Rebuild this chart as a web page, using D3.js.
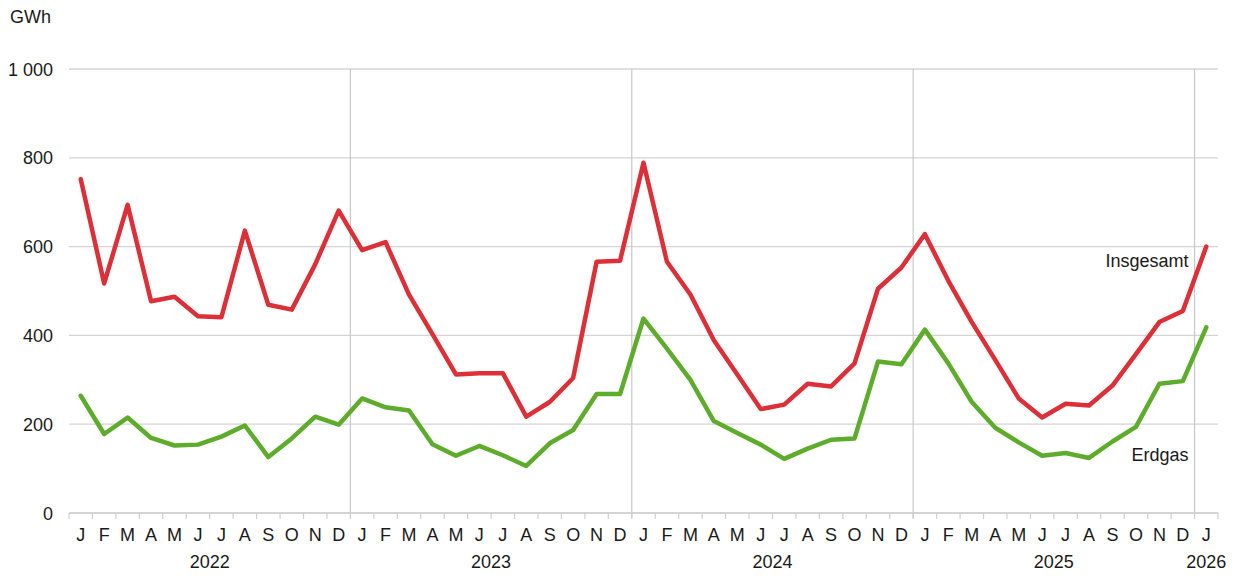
<!DOCTYPE html>
<html>
<head>
<meta charset="utf-8">
<script src="https://cdn.jsdelivr.net/npm/d3@7"></script>
<style>
  body { margin: 0; background: #fff; }
  svg text { font-family: "Liberation Sans", Arial, sans-serif; fill: #1a1a1a; }
</style>
</head>
<body>
<svg id="chart" width="1236" height="576"></svg>
<script>
const years = [2022, 2023, 2024, 2025, 2026];
const monthLetters = ["J", "F", "M", "A", "M", "J", "J", "A", "S", "O", "N", "D"];

// Jan 2022 .. Jan 2026, GWh
const insgesamt = [
  752, 517, 694, 477, 487, 443, 441, 636, 469, 458, 560, 681,
  592, 610, 492, 403, 312, 315, 315, 217, 250, 304, 566, 568,
  789, 566, 492, 389, 312, 234, 244, 291, 285, 337, 505, 553,
  628, 523, 430, 345, 258, 215, 246, 242, 287, 358, 430, 455,
  600
];
const erdgas = [
  264, 178, 215, 169, 152, 154, 172, 197, 126, 168, 217, 199,
  258, 238, 231, 155, 129, 151, 130, 106, 157, 187, 268, 268,
  438, 370, 300, 207, 180, 154, 122, 145, 165, 168, 341, 335,
  413, 337, 250, 192, 159, 129, 135, 124, 161, 194, 291, 297,
  418
];
const yTicks = [0, 200, 400, 600, 800, 1000];

const months = insgesamt.map((d, i) => ({
  key: i,
  year: years[0] + Math.floor(i / 12),
  letter: monthLetters[i % 12]
}));

const margin = { top: 69, right: 18, bottom: 63, left: 69 };
const width = 1236 - margin.left - margin.right;
const height = 576 - margin.top - margin.bottom;
const fontSize = "18px";

const svg = d3.select("#chart");
const g = svg.append("g").attr("transform", "translate(" + margin.left + "," + margin.top + ")");

const x = d3.scaleBand().domain(months.map(d => d.key)).range([0, width]).padding(0);
const y = d3.scaleLinear().domain([0, 1000]).range([height, 0]);

const locale = d3.formatLocale({ decimal: ",", thousands: " ", grouping: [3], currency: ["", ""] });
const fmt = locale.format(",");

// horizontal gridlines
g.selectAll(".grid")
  .data(yTicks)
  .enter()
  .append("line")
  .attr("x1", 0)
  .attr("x2", width)
  .attr("y1", d => y(d))
  .attr("y2", d => y(d))
  .style("stroke", "#d4d4d4")
  .style("stroke-width", 1.3);

// y labels
g.selectAll(".ylab")
  .data(yTicks)
  .enter()
  .append("text")
  .attr("x", -16)
  .attr("y", d => y(d) + 6.5)
  .attr("text-anchor", "end")
  .style("font-size", fontSize)
  .text(d => fmt(d));

svg.append("text")
  .attr("x", 10)
  .attr("y", 23)
  .style("font-size", fontSize)
  .text("GWh");

// year separators (between Dec and Jan)
const sepKeys = months.filter(d => d.key > 0 && d.key % 12 === 0).map(d => d.key);
g.selectAll(".sep")
  .data(sepKeys)
  .enter()
  .append("line")
  .attr("x1", d => x(d))
  .attr("x2", d => x(d))
  .attr("y1", 0)
  .attr("y2", height + 5)
  .style("stroke", "#c8c8c8")
  .style("stroke-width", 1.2);

// bottom axis
const xAxis = d3.axisBottom(x).tickSize(0).tickFormat(k => months[k].letter);
const ax = g.append("g")
  .attr("transform", "translate(0," + height + ")")
  .call(xAxis);
ax.select(".domain").remove();
ax.selectAll("text")
  .attr("y", 28)
  .attr("dy", null)
  .style("font-size", fontSize)
  .style("font-family", "Liberation Sans, Arial, sans-serif")
  .style("fill", "#1a1a1a");

g.append("line")
  .attr("x1", 0).attr("x2", width)
  .attr("y1", height).attr("y2", height)
  .style("stroke", "#d0d0d0")
  .style("stroke-width", 1.5);

// month boundary ticks
const bounds = months.map(d => x(d.key)).concat([width]);
g.selectAll(".mtick")
  .data(bounds)
  .enter()
  .append("line")
  .attr("x1", d => d)
  .attr("x2", d => d)
  .attr("y1", height)
  .attr("y2", height + 6)
  .style("stroke", "#d0d0d0")
  .style("stroke-width", 1.2);

// year labels centred under each year's months
g.selectAll(".year")
  .data(years)
  .enter()
  .append("text")
  .attr("x", yr => {
    const ks = months.filter(d => d.year === yr).map(d => d.key);
    return (x(ks[0]) + x(ks[ks.length - 1]) + x.bandwidth()) / 2;
  })
  .attr("y", height + 55)
  .attr("text-anchor", "middle")
  .style("font-size", fontSize)
  .text(d => d);

// lines
const line = d3.line()
  .x((d, i) => x(i) + x.bandwidth() / 2)
  .y(d => y(d));

g.append("path")
  .datum(erdgas)
  .attr("d", line)
  .style("fill", "none")
  .style("stroke", "#5dac2b")
  .style("stroke-width", 4.5)
  .style("stroke-linejoin", "round")
  .style("stroke-linecap", "round");

g.append("path")
  .datum(insgesamt)
  .attr("d", line)
  .style("fill", "none")
  .style("stroke", "#dc2f37")
  .style("stroke-width", 4.5)
  .style("stroke-linejoin", "round")
  .style("stroke-linecap", "round");

// series labels
const labelX = x(months.length - 1) - 6;
g.append("text")
  .attr("x", labelX)
  .attr("y", 267 - margin.top)
  .attr("text-anchor", "end")
  .style("font-size", fontSize)
  .text("Insgesamt");

g.append("text")
  .attr("x", labelX)
  .attr("y", 461 - margin.top)
  .attr("text-anchor", "end")
  .style("font-size", fontSize)
  .text("Erdgas");
</script>
</body>
</html>
